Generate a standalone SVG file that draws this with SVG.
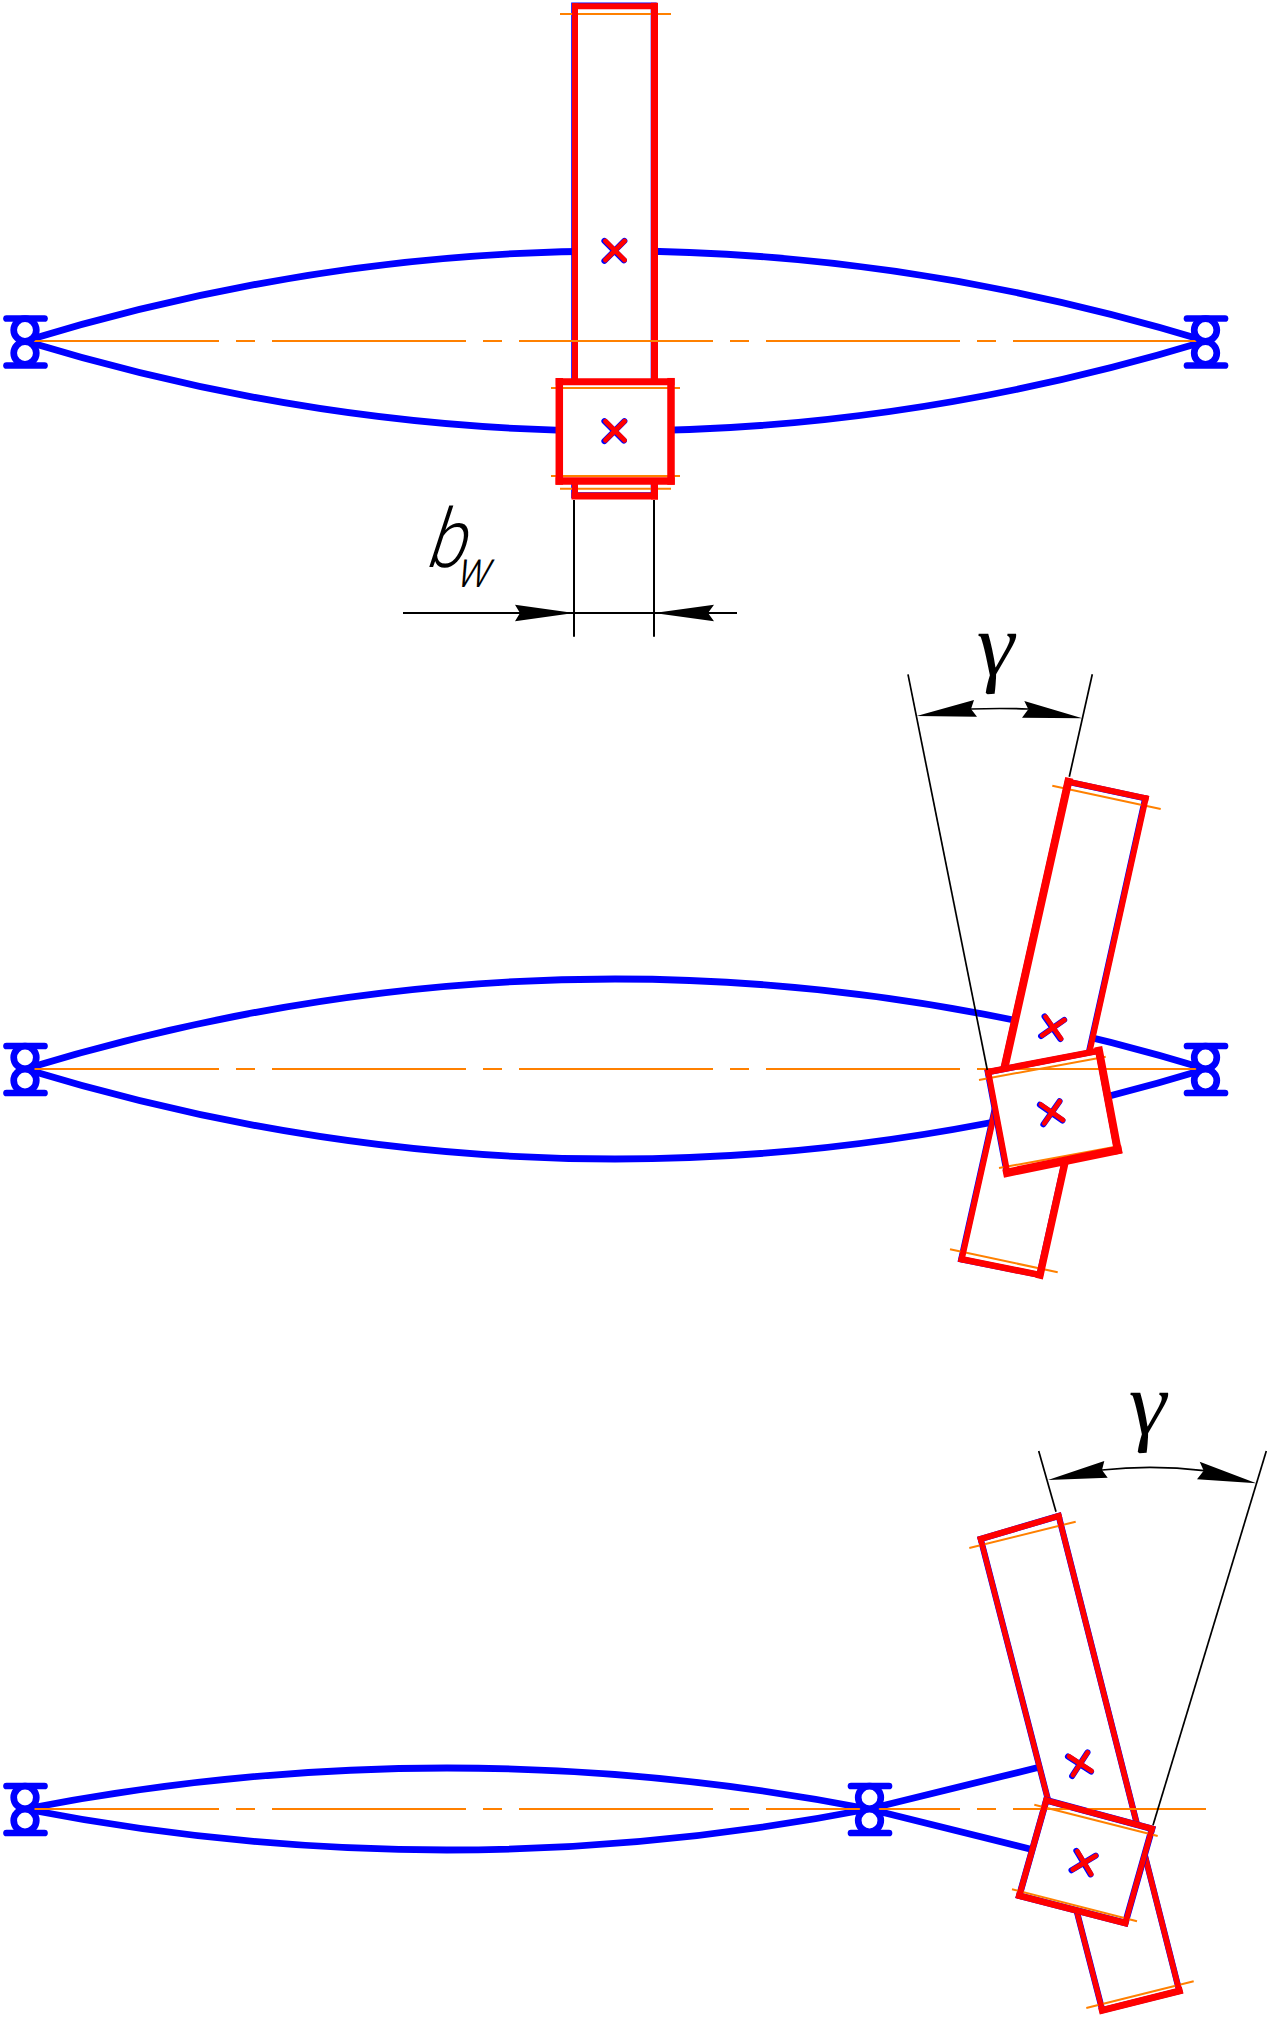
<svg xmlns="http://www.w3.org/2000/svg" xmlns:xlink="http://www.w3.org/1999/xlink" width="1272" height="2017" viewBox="0 0 1272 2017">
<style>
.shaft{fill:none;stroke:#0000ff;stroke-width:6.8}
.edge{fill:none;stroke:#0000ff;stroke-linejoin:miter}
.fillw{fill:#fff;stroke:none}
.r{stroke:#ff0000;stroke-linecap:square;fill:none}
.o{stroke:#ff8000;stroke-width:2;fill:none}
.c{stroke:#ff8000;stroke-width:2;fill:none;stroke-dasharray:194 17 19 17}
.k{stroke:#000;stroke-width:2;fill:none}
.ka{stroke:#000;stroke-width:1.7;fill:none}
.a{fill:#000;stroke:none}
.brg{stroke:#0000ff;stroke-width:6.7;fill:#fff;stroke-linecap:round}
.xb{stroke:#0000ff;stroke-width:6;stroke-linecap:round;fill:none}
.xr{stroke:#ff0000;stroke-width:4.8;stroke-linecap:round;fill:none}
.g{font-family:"Liberation Serif",serif;font-size:90px;fill:#000}
.bw{font-family:"Roboto","Liberation Sans",sans-serif;font-weight:300;fill:#000}
</style>
<defs>
<g id="brg"><line class="brg" x1="6.5" y1="-23" x2="44.5" y2="-23"/><line class="brg" x1="6.5" y1="24" x2="44.5" y2="24"/><circle class="brg" cx="25" cy="-11.5" r="11.3"/><circle class="brg" cx="25" cy="11.5" r="11.3"/></g>
<g id="xm"><path class="xb" d="M-10,-10L9.5,9.5M10,-10L-10,10" transform="translate(-.6,.4)"/><path class="xr" d="M-9.5,-9.5L9.5,9.5M9.5,-9.5L-9.5,9.5"/></g>
</defs>
<g id="connectors">
<path class="shaft" d="M25,341 Q320,251 615,251 Q910,251 1206,341"/>
<path class="shaft" d="M25,341 Q320,431 615,431 Q910,431 1206,341"/>
<path class="shaft" d="M25,1069 Q320,979 615,979 Q910,979 1206,1069"/>
<path class="shaft" d="M25,1069 Q320,1159 615,1159 Q910,1159 1206,1069"/>
<path class="shaft" d="M25,1809 Q236,1768 447,1768 Q658,1768 869,1809"/>
<path class="shaft" d="M25,1809 Q236,1850 447,1850 Q658,1850 869,1809"/>
<path class="shaft" d="M869,1809 L1040,1767"/>
<path class="shaft" d="M869,1809 L1032,1849.5"/>
</g>
<g id="wheel-1">
<polygon class="fillw" points="575,6.3 654.5,6.3 654.5,496 575,496"/>
<polygon class="edge" stroke-width="6" points="575,6.3 654.5,6.3 654.5,496 575,496" transform="translate(-.8,-.8)"/>
<line class="o" x1="560" y1="14" x2="671" y2="14"/>
<line class="o" x1="560" y1="488.7" x2="671" y2="488.7"/>
<line class="r" stroke-width="6" x1="575" y1="6.3" x2="654.5" y2="6.3"/>
<line class="r" stroke-width="6" x1="575" y1="6.3" x2="575" y2="496"/>
<line class="r" stroke-width="7" x1="654.5" y1="6.3" x2="654.5" y2="496"/>
<line class="r" stroke-width="7" x1="575" y1="496" x2="654.5" y2="496"/>
</g>
<g id="wheel-2">
<polygon class="fillw" points="1068.3,781.7 1145.7,798.3 1040,1275 961.7,1259.3"/>
<polygon class="edge" stroke-width="6" points="1068.3,781.7 1145.7,798.3 1040,1275 961.7,1259.3" transform="translate(-.6,0)"/>
<line class="o" x1="1052.3" y1="785.7" x2="1160.7" y2="809"/>
<line class="o" x1="950" y1="1249.3" x2="1057.7" y2="1272.3"/>
<line class="r" stroke-width="6" x1="1068.3" y1="781.7" x2="1145.7" y2="798.3"/>
<line class="r" stroke-width="8" x1="1068.3" y1="781.7" x2="997.3" y2="1100"/>
<line class="r" stroke-width="6" x1="997.3" y1="1100" x2="961.7" y2="1259.3"/>
<line class="r" stroke-width="6" x1="1145.7" y1="798.3" x2="1078.8" y2="1100"/>
<line class="r" stroke-width="7.5" x1="1078.8" y1="1100" x2="1040" y2="1275"/>
<line class="r" stroke-width="6.5" x1="961.7" y1="1259.3" x2="1040" y2="1275"/>
</g>
<g id="wheel-3">
<polygon class="fillw" points="980.7,1539 1058.7,1516 1179.3,1991 1102.3,2010.3"/>
<polygon class="edge" stroke-width="6.2" points="980.7,1539 1058.7,1516 1179.3,1991 1102.3,2010.3"/>
<line class="o" x1="969.3" y1="1548" x2="1075.7" y2="1521.7"/>
<line class="o" x1="1086.3" y1="2008" x2="1193.7" y2="1981.3"/>
<line class="r" stroke-width="6" x1="980.7" y1="1539" x2="1058.7" y2="1516"/>
<line class="r" stroke-width="5.4" x1="980.7" y1="1539" x2="1102.3" y2="2010.3"/>
<line class="r" stroke-width="5.6" x1="1058.7" y1="1516" x2="1179.3" y2="1991"/>
<line class="r" stroke-width="7" x1="1102.3" y1="2010.3" x2="1179.3" y2="1991"/>
</g>
<g id="pinion-fills">
<polygon class="fillw" points="559.3,381.7 671,381.7 671,481 559.3,481"/>
<polygon class="fillw" points="988.3,1072 1099,1050.7 1117.7,1150 1007.3,1172.7"/>
<polygon class="edge" stroke-width="6" points="988.3,1072 1099,1050.7 1117.7,1150 1007.3,1172.7" transform="translate(-.6,.2)"/>
<polygon class="fillw" points="1046.3,1800.3 1152,1828.7 1125.3,1923 1019.3,1895.7"/>
<polygon class="edge" stroke-width="6.6" points="1046.3,1800.3 1152,1828.7 1125.3,1923 1019.3,1895.7"/>
</g>
<g id="centerlines">
<line class="c" x1="25" y1="341" x2="1206" y2="341"/>
<line class="c" x1="25" y1="1069" x2="1206" y2="1069"/>
<line class="c" x1="25" y1="1809" x2="1206" y2="1809"/>
</g>
<g id="pinion-1">
<line class="o" x1="551" y1="388" x2="680" y2="388"/>
<line class="o" x1="551" y1="476" x2="680" y2="476"/>
<line class="r" stroke-width="7" x1="559.3" y1="381.7" x2="671" y2="381.7"/>
<line class="r" stroke-width="7.5" x1="671" y1="381.7" x2="671" y2="481"/>
<line class="r" stroke-width="7.5" x1="671" y1="481" x2="559.3" y2="481"/>
<line class="r" stroke-width="7.5" x1="559.3" y1="481" x2="559.3" y2="381.7"/>
</g>
<g id="pinion-2">
<line class="o" x1="979" y1="1080" x2="1105.7" y2="1056.7"/>
<line class="o" x1="999" y1="1168" x2="1121" y2="1145.7"/>
<line class="r" stroke-width="6.5" x1="988.3" y1="1072" x2="1099" y2="1050.7"/>
<line class="r" stroke-width="8" x1="1099" y1="1050.7" x2="1117.7" y2="1150"/>
<line class="r" stroke-width="8.5" x1="1117.7" y1="1150" x2="1007.3" y2="1172.7"/>
<line class="r" stroke-width="6" x1="1007.3" y1="1172.7" x2="988.3" y2="1072"/>
</g>
<g id="pinion-3">
<line class="o" x1="1034.3" y1="1804.7" x2="1157.7" y2="1836"/>
<line class="o" x1="1012" y1="1889.3" x2="1137" y2="1921.3"/>
<line class="r" stroke-width="6" x1="1046.3" y1="1800.3" x2="1152" y2="1828.7"/>
<line class="r" stroke-width="5.5" x1="1152" y1="1828.7" x2="1125.3" y2="1923"/>
<line class="r" stroke-width="6.5" x1="1125.3" y1="1923" x2="1019.3" y2="1895.7"/>
<line class="r" stroke-width="6" x1="1019.3" y1="1895.7" x2="1046.3" y2="1800.3"/>
</g>
<g id="marks">
<use xlink:href="#xm" href="#xm" transform="translate(615,250.5)"/>
<use xlink:href="#xm" href="#xm" transform="translate(615,430.7)"/>
<use xlink:href="#xm" href="#xm" transform="translate(1053.3,1027.7) rotate(10)"/>
<use xlink:href="#xm" href="#xm" transform="translate(1052,1112.3) rotate(-10)"/>
<use xlink:href="#xm" href="#xm" transform="translate(1080.3,1763.7) rotate(-12)"/>
<use xlink:href="#xm" href="#xm" transform="translate(1084.3,1862.7) rotate(14)"/>
</g>
<g id="bearing-1l" transform="translate(0,341.5)"><use xlink:href="#brg" href="#brg"/></g>
<g id="bearing-1r" transform="translate(1180.5,341.5)"><use xlink:href="#brg" href="#brg"/></g>
<g id="bearing-2l" transform="translate(0,1069)"><use xlink:href="#brg" href="#brg"/></g>
<g id="bearing-2r" transform="translate(1180.5,1069)"><use xlink:href="#brg" href="#brg"/></g>
<g id="bearing-3l" transform="translate(0,1809)"><use xlink:href="#brg" href="#brg"/></g>
<g id="bearing-3m" transform="translate(844.5,1809)"><use xlink:href="#brg" href="#brg"/></g>
<g id="dim-1">
<line class="k" x1="574" y1="500" x2="574" y2="636.7"/>
<line class="k" x1="654" y1="500" x2="654" y2="636.7"/>
<line class="k" x1="403" y1="613" x2="737" y2="613"/>
<polygon class="a" points="574,613 515,604.7 520,613 515,621.3"/>
<polygon class="a" points="654,613 714,604.7 708,613 714,621.3"/>
<text class="bw" font-size="82" transform="translate(424,567) skewX(-18) scale(.85,1)">b</text>
<text class="bw" font-size="52" transform="translate(454,587) skewX(-18) scale(.85,1)">w</text>
</g>
<g id="dim-2">
<line class="ka" x1="908" y1="674.3" x2="987.3" y2="1070"/>
<line class="ka" x1="1092.3" y1="674.3" x2="1069.3" y2="776.7"/>
<path class="ka" d="M971,709 Q1000,708 1028,709"/>
<polygon class="a" points="916.7,716 974,700 971,709 977,716.7"/>
<polygon class="a" points="1082.3,718.3 1024.3,701 1028.3,709.3 1022,717.7"/>
<text class="g" transform="translate(973,675) skewX(-8)">γ</text>
</g>
<g id="dim-3">
<line class="ka" x1="1038.7" y1="1451" x2="1056" y2="1511.7"/>
<line class="ka" x1="1266.3" y1="1451" x2="1153" y2="1825.3"/>
<path class="ka" d="M1102,1470 Q1153,1464.6 1204,1470.7"/>
<polygon class="a" points="1048,1480 1104.3,1461 1102,1470 1107.7,1477.7"/>
<polygon class="a" points="1256.3,1483.3 1199.7,1461.7 1203.7,1470.7 1197,1479.3"/>
<text class="g" transform="translate(1125,1434) skewX(-8)">γ</text>
</g>
</svg>
